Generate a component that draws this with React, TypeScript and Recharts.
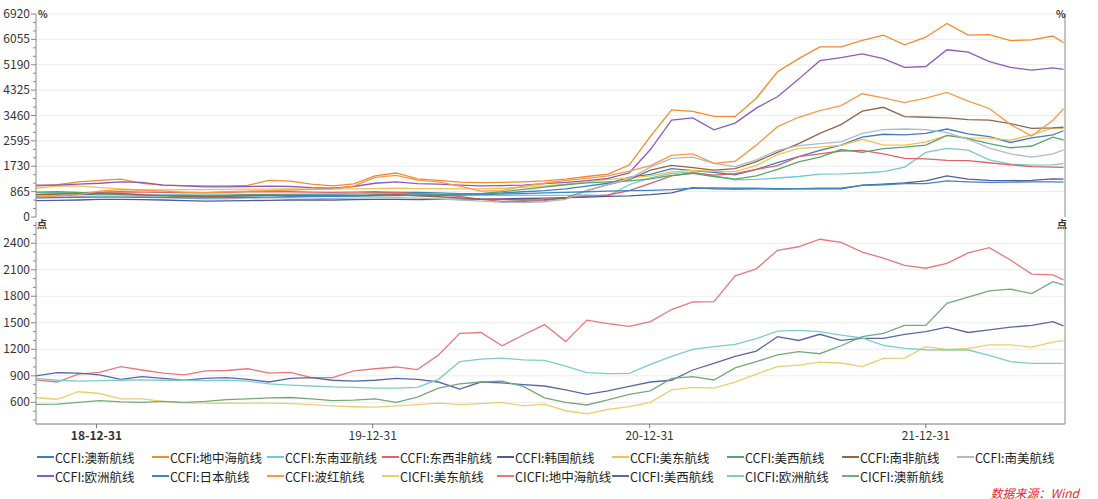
import React from 'react';
import { LineChart, Line, XAxis, YAxis, ReferenceLine } from 'recharts';

// 4-weekly samples
const dates = [
  '2018-10-12', '2018-11-09', '2018-12-07', '2019-01-04', '2019-02-01', '2019-03-01', '2019-03-29', '2019-04-26',
  '2019-05-24', '2019-06-21', '2019-07-19', '2019-08-16', '2019-09-13', '2019-10-11', '2019-11-08', '2019-12-06',
  '2020-01-03', '2020-01-31', '2020-02-28', '2020-03-27', '2020-04-24', '2020-05-22', '2020-06-19', '2020-07-17',
  '2020-08-14', '2020-09-11', '2020-10-09', '2020-11-06', '2020-12-04', '2021-01-01', '2021-01-29', '2021-02-26',
  '2021-03-26', '2021-04-23', '2021-05-21', '2021-06-18', '2021-07-16', '2021-08-13', '2021-09-10', '2021-10-08',
  '2021-11-05', '2021-12-03', '2021-12-31', '2022-01-28', '2022-02-25', '2022-03-25', '2022-04-22', '2022-05-20',
  '2022-06-17', '2022-07-01',
];
const axisEnd = '2022-07-03';

// CCFI (top panel, %)
const ccfiAoxin = [700, 720, 760, 780, 780, 760, 740, 730, 720, 720, 730, 750, 760, 760, 770, 790, 820, 840, 840, 820, 800, 800, 820, 860, 900, 960, 1050, 1150, 1350, 1450, 1650, 1580, 1520, 1440, 1620, 1850, 2060, 2270, 2450, 2720, 2820, 2800, 2850, 3000, 2830, 2740, 2540, 2700, 2800, 2940];
const ccfiMed = [1050, 1100, 1200, 1250, 1290, 1150, 1090, 1070, 1060, 1060, 1080, 1250, 1220, 1120, 1060, 1130, 1400, 1500, 1300, 1250, 1190, 1170, 1180, 1200, 1230, 1290, 1380, 1460, 1770, 2750, 3650, 3600, 3430, 3420, 4050, 4950, 5400, 5800, 5800, 6020, 6200, 5870, 6130, 6600, 6200, 6220, 6010, 6040, 6170, 5940];
const ccfiSea = [820, 820, 830, 800, 780, 760, 760, 770, 780, 780, 770, 770, 780, 790, 790, 800, 810, 800, 790, 780, 760, 750, 740, 740, 740, 740, 750, 720, 1100, 1330, 1490, 1530, 1400, 1270, 1280, 1330, 1380, 1460, 1470, 1500, 1550, 1700, 2200, 2340, 2280, 1950, 1800, 1770, 1780, 1830];
const ccfiWafr = [760, 790, 820, 850, 860, 850, 840, 830, 830, 840, 860, 860, 860, 850, 840, 850, 860, 840, 800, 760, 700, 600, 530, 530, 560, 650, 700, 750, 900, 1150, 1400, 1500, 1430, 1480, 1620, 1750, 2060, 2150, 2250, 2270, 2150, 2000, 1980, 1930, 1920, 1850, 1780, 1720, 1700, 1690];
const ccfiKorea = [560, 570, 580, 600, 600, 590, 580, 560, 540, 550, 560, 570, 580, 580, 580, 590, 600, 600, 590, 600, 610, 610, 620, 630, 640, 660, 680, 700, 720, 760, 820, 1000, 960, 950, 960, 950, 960, 970, 960, 1090, 1120, 1160, 1230, 1400, 1290, 1250, 1240, 1250, 1300, 1290];
const ccfiUse = [980, 1050, 1060, 1000, 960, 920, 920, 930, 930, 940, 950, 950, 960, 950, 960, 960, 970, 980, 970, 970, 960, 960, 980, 1010, 1060, 1120, 1200, 1280, 1330, 1400, 1540, 1590, 1560, 1550, 1750, 2130, 2340, 2380, 2440, 2650, 2450, 2450, 2550, 2780, 2700, 2690, 2620, 2800, 3040, 3020];
const ccfiUsw = [850, 860, 840, 800, 760, 730, 720, 720, 730, 740, 760, 760, 740, 730, 730, 740, 760, 780, 780, 770, 780, 800, 860, 940, 1020, 1100, 1160, 1200, 1230, 1300, 1420, 1490, 1380, 1290, 1400, 1620, 1880, 2040, 2300, 2200, 2330, 2380, 2450, 2780, 2670, 2500, 2360, 2420, 2720, 2630];
const ccfiSafr = [760, 780, 800, 820, 800, 760, 720, 700, 690, 700, 720, 740, 740, 730, 720, 720, 740, 760, 720, 690, 650, 610, 600, 580, 590, 640, 900, 1100, 1270, 1600, 1760, 1680, 1600, 1650, 1890, 2200, 2500, 2850, 3150, 3610, 3740, 3420, 3400, 3380, 3320, 3300, 3180, 3020, 3040, 3060];
const ccfiSam = [650, 680, 700, 720, 720, 700, 680, 640, 620, 620, 640, 660, 650, 640, 630, 640, 650, 660, 640, 620, 580, 540, 500, 490, 520, 600, 900, 1100, 1300, 1700, 2000, 2040, 1830, 1720, 1950, 2270, 2430, 2500, 2560, 2850, 2980, 3000, 2980, 2880, 2650, 2350, 2150, 2040, 2150, 2290];
const ccfiEurope = [1090, 1090, 1120, 1150, 1200, 1180, 1090, 1060, 1030, 1030, 1040, 1050, 1040, 1000, 980, 1040, 1150, 1200, 1140, 1120, 1090, 1060, 1070, 1090, 1140, 1180, 1240, 1320, 1500, 2300, 3300, 3380, 2970, 3200, 3710, 4100, 4700, 5330, 5430, 5560, 5400, 5100, 5130, 5700, 5620, 5300, 5100, 5010, 5080, 5030];
const ccfiJapan = [650, 660, 670, 680, 680, 670, 660, 650, 650, 660, 670, 680, 690, 700, 700, 710, 720, 730, 740, 740, 750, 760, 780, 800, 820, 840, 860, 880, 900, 910, 930, 980, 990, 980, 980, 970, 970, 980, 980, 1080, 1100, 1140, 1140, 1230, 1200, 1180, 1190, 1200, 1200, 1190];
const ccfiPg = [680, 720, 760, 880, 930, 920, 880, 850, 830, 860, 880, 900, 920, 940, 960, 1050, 1350, 1420, 1260, 1200, 1050, 880, 900, 1050, 1150, 1250, 1320, 1400, 1560, 1750, 2100, 2150, 1830, 1900, 2450, 3080, 3400, 3630, 3800, 4200, 4060, 3900, 4050, 4250, 3950, 3700, 3150, 2760, 3300, 3690];

// CICFI (bottom panel, 点)
const cicfiUse = [652, 635, 720, 700, 640, 640, 610, 595, 590, 590, 592, 590, 585, 575, 560, 550, 545, 560, 575, 590, 575, 585, 600, 560, 580, 505, 470, 520, 551, 600, 740, 770, 760, 830, 920, 1004, 1020, 1055, 1045, 1004, 1098, 1100, 1230, 1200, 1211, 1250, 1250, 1225, 1280, 1298];
const cicfiMed = [853, 830, 920, 940, 1004, 966, 930, 910, 955, 960, 980, 930, 940, 880, 880, 955, 980, 1000, 970, 1136, 1380, 1390, 1240, 1362, 1480, 1287, 1530, 1490, 1460, 1513, 1650, 1735, 1740, 2030, 2110, 2320, 2360, 2445, 2410, 2300, 2230, 2150, 2117, 2173, 2290, 2350, 2210, 2050, 2041, 1985];
const cicfiUsw = [900, 935, 930, 910, 860, 890, 870, 850, 870, 880, 860, 830, 870, 880, 850, 840, 850, 870, 860, 830, 750, 830, 820, 800, 785, 740, 690, 730, 780, 830, 850, 966, 1040, 1120, 1180, 1343, 1300, 1370, 1300, 1324, 1324, 1370, 1400, 1450, 1390, 1420, 1450, 1470, 1513, 1464];
const cicfiEurope = [872, 850, 840, 845, 850, 853, 850, 850, 845, 850, 840, 810, 795, 785, 775, 770, 760, 760, 770, 860, 1060, 1090, 1100, 1080, 1075, 1010, 935, 925, 928, 1030, 1120, 1200, 1230, 1255, 1320, 1405, 1415, 1400, 1360, 1328, 1245, 1211, 1195, 1192, 1192, 1130, 1060, 1041, 1041, 1041];
const cicfiAoxin = [577, 580, 600, 620, 605, 600, 610, 600, 610, 630, 640, 650, 655, 640, 620, 625, 640, 600, 660, 760, 810, 830, 840, 780, 650, 600, 570, 627, 690, 730, 870, 891, 853, 990, 1060, 1136, 1173, 1150, 1240, 1343, 1380, 1470, 1470, 1720, 1790, 1860, 1880, 1830, 1966, 1928];

const ccfiNames = ['CCFI:澳新航线', 'CCFI:地中海航线', 'CCFI:东南亚航线', 'CCFI:东西非航线', 'CCFI:韩国航线', 'CCFI:美东航线', 'CCFI:美西航线', 'CCFI:南非航线', 'CCFI:南美航线', 'CCFI:欧洲航线', 'CCFI:日本航线', 'CCFI:波红航线'];
const ccfiColors = ['#3f7fba', '#f28a2e', '#72cbcb', '#e06262', '#4f5b9e', '#efc256', '#5ba36a', '#93654a', '#aebaca', '#8a5bbd', '#3d86bf', '#f69a45'];
const ccfiValues = [ccfiAoxin, ccfiMed, ccfiSea, ccfiWafr, ccfiKorea, ccfiUse, ccfiUsw, ccfiSafr, ccfiSam, ccfiEurope, ccfiJapan, ccfiPg];

const cicfiNames = ['CICFI:美东航线', 'CICFI:地中海航线', 'CICFI:美西航线', 'CICFI:欧洲航线', 'CICFI:澳新航线'];
const cicfiColors = ['#ecce6c', '#e87878', '#5a66aa', '#7ccccc', '#72aa7a'];
const cicfiValues = [cicfiUse, cicfiMed, cicfiUsw, cicfiEurope, cicfiAoxin];

const topTicks = [0, 865, 1730, 2595, 3460, 4325, 5190, 6055, 6920];
const topMinor = topTicks.slice(1).flatMap((v) => [v - 865 * 2 / 3, v - 865 / 3]);
const bottomTicks = [600, 900, 1200, 1500, 1800, 2100, 2400];
const bottomMinor = [400, 500, 700, 800, 1000, 1100, 1300, 1400, 1600, 1700, 1900, 2000, 2200, 2300, 2500, 2600];
const xTickDates = ['2018-12-31', '2019-12-31', '2020-12-31', '2021-12-31'];

const xTicks = xTickDates.map((d) => Date.parse(d));
const xDomain = [Date.parse(dates[0]), Date.parse(axisEnd)];

const rows = dates.map((d, i) => {
  const r: Record<string, number> = { t: Date.parse(d) };
  ccfiValues.forEach((s, k) => { r['c' + k] = s[i]; });
  cicfiValues.forEach((s, k) => { r['i' + k] = s[i]; });
  return r;
});

const font = "'Noto Sans CJK SC', 'Noto Sans', sans-serif";
const axisColor = '#8a8a8a';
const gridColor = '#ececec';

const fmtDate = (t: number) => {
  const d = new Date(t);
  const p = (n: number) => String(n).padStart(2, '0');
  return `${String(d.getUTCFullYear()).slice(2)}-${p(d.getUTCMonth() + 1)}-${p(d.getUTCDate())}`;
};

function YTick(props: any) {
  const { x, y, payload, side, majors } = props;
  const v = payload.value;
  const major = majors.includes(v);
  const ax = side === 'left' ? x + 6 : x - 6;
  const len = major ? 5 : 3;
  const x2 = side === 'left' ? ax - len : ax + len;
  return (
    <g>
      <line x1={ax} y1={y} x2={x2} y2={y} stroke={axisColor} />
      {major && (
        <text x={side === 'left' ? ax - 6 : ax + 6} y={y} dy={4} textAnchor={side === 'left' ? 'end' : 'start'} fontSize={12} fill="#333" fontFamily={font}>
          {v}
        </text>
      )}
    </g>
  );
}

function XTick(props: any) {
  const { x, y, payload } = props;
  const first = payload.value === xTicks[0];
  return (
    <text x={x} y={y} dy={10} textAnchor="middle" fontSize={12} fontWeight={first ? 700 : 400} fill="#333" fontFamily={font}>
      {fmtDate(payload.value)}
    </text>
  );
}

const unitStyle: React.CSSProperties = { position: 'absolute', fontSize: 10, fontWeight: 700, color: '#333', lineHeight: '10px' };

export default function App() {
  const legendItems = [
    ...ccfiNames.map((n, k) => ({ name: n, color: ccfiColors[k] })),
    ...cicfiNames.map((n, k) => ({ name: n, color: cicfiColors[k] })),
  ];

  return (
    <div style={{ position: 'absolute', left: 0, top: 0, width: 1098, height: 499, background: '#fff', fontFamily: font }}>
      <div style={{ position: 'absolute', left: 0, top: 0 }}>
        <LineChart width={1098} height={230} data={rows} margin={{ top: 14, right: 0, bottom: 13, left: 0 }}>
          <XAxis dataKey="t" type="number" domain={xDomain} hide />
          <YAxis yAxisId="l" orientation="left" width={36} type="number" domain={[0, 6920]} ticks={[...topTicks, ...topMinor]}
            interval={0} tickSize={5} tickMargin={1} tickLine={false} axisLine={{ stroke: axisColor }}
            tick={(p: any) => <YTick {...p} side="left" majors={topTicks} />} />
          <YAxis yAxisId="r" orientation="right" width={33} type="number" domain={[0, 6920]} ticks={[...topTicks, ...topMinor]}
            interval={0} tickSize={5} tickMargin={1} tickLine={false} axisLine={{ stroke: axisColor }}
            tick={(p: any) => <YTick {...p} side="right" majors={topTicks} />} />
          {topTicks.slice(1).map((v) => (
            <ReferenceLine key={v} yAxisId="l" y={v} stroke={gridColor} />
          ))}
          {ccfiNames.map((n, k) => (
            <Line key={n} yAxisId="l" type="linear" dataKey={'c' + k} name={n} stroke={ccfiColors[k]} strokeWidth={1.3}
              dot={false} isAnimationActive={false} />
          ))}
        </LineChart>
      </div>

      <div style={{ position: 'absolute', left: 0, top: 217 }}>
        <LineChart width={1098} height={230} data={rows} margin={{ top: 5, right: 0, bottom: 3, left: 0 }}>
          <XAxis dataKey="t" type="number" domain={xDomain} ticks={xTicks} interval={0} height={20}
            axisLine={{ stroke: '#777' }} tickLine={{ stroke: '#777' }} tickSize={4} tickMargin={2} tick={XTick} />
          <YAxis yAxisId="l" orientation="left" width={36} type="number" domain={[355, 2640]} ticks={[...bottomTicks, ...bottomMinor]}
            interval={0} tickSize={5} tickMargin={1} tickLine={false} axisLine={{ stroke: axisColor }}
            tick={(p: any) => <YTick {...p} side="left" majors={bottomTicks} />} />
          <YAxis yAxisId="r" orientation="right" width={33} type="number" domain={[355, 2640]} ticks={[...bottomTicks, ...bottomMinor]}
            interval={0} tickSize={5} tickMargin={1} tickLine={false} axisLine={{ stroke: axisColor }}
            tick={(p: any) => <YTick {...p} side="right" majors={bottomTicks} />} />
          {bottomTicks.map((v) => (
            <ReferenceLine key={v} yAxisId="l" y={v} stroke={gridColor} />
          ))}
          {cicfiNames.map((n, k) => (
            <Line key={n} yAxisId="l" type="linear" dataKey={'i' + k} name={n} stroke={cicfiColors[k]} strokeWidth={1.3}
              dot={false} isAnimationActive={false} />
          ))}
        </LineChart>
      </div>

      <span style={{ ...unitStyle, left: 38, top: 9 }}>%</span>
      <span style={{ ...unitStyle, left: 1056, top: 9 }}>%</span>
      <span style={{ ...unitStyle, left: 37, top: 219 }}>点</span>
      <span style={{ ...unitStyle, left: 1057, top: 219 }}>点</span>

      <div style={{ position: 'absolute', left: 37, top: 448, display: 'grid', gridTemplateColumns: 'repeat(9, 115px)', rowGap: 1 }}>
        {legendItems.map((it) => (
          <div key={it.name} style={{ display: 'flex', alignItems: 'center', height: 18, whiteSpace: 'nowrap' }}>
            <span style={{ display: 'inline-block', width: 17, height: 1.5, background: it.color, marginRight: 1 }} />
            <span style={{ fontSize: 12.5, color: '#222' }}>{it.name}</span>
          </div>
        ))}
      </div>

      <div style={{ position: 'absolute', right: 19, top: 484, fontSize: 12, fontStyle: 'italic', color: '#e8262a' }}>
        数据来源：Wind
      </div>
    </div>
  );
}
